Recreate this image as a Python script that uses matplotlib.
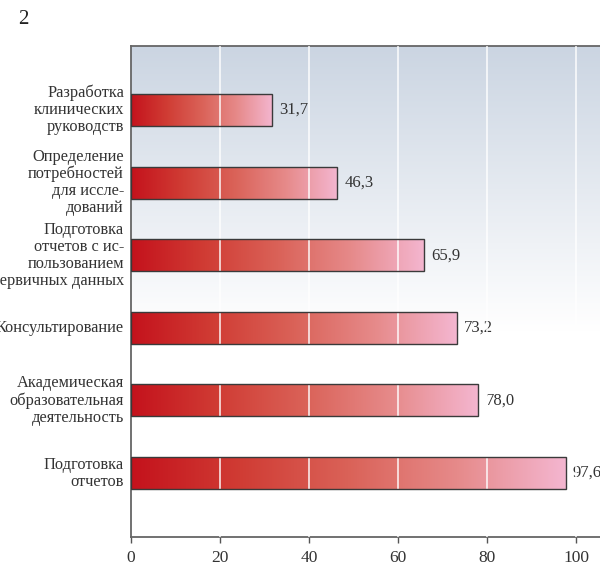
import numpy as np
import matplotlib
matplotlib.use("Agg")
import matplotlib.pyplot as plt
from matplotlib.colors import LinearSegmentedColormap

# данные (сверху вниз)
labels = [
    "Разработка\nклинических\nруководств",
    "Определение\nпотребностей\nдля иссле-\nдований",
    "Подготовка\nотчетов с ис-\nпользованием\nпервичных данных",
    "Консультирование",
    "Академическая\nобразовательная\nдеятельность",
    "Подготовка\nотчетов",
]
values = [31.7, 46.3, 65.9, 73.2, 78.0, 97.6]
value_text = ["31,7", "46,3", "65,9", "73,2", "78,0", "97,6"]
xticks = [0, 20, 40, 60, 80, 100]

plt.rcParams['font.family'] = ['Liberation Serif', 'DejaVu Serif']

fig = plt.figure(figsize=(6.0, 5.68), dpi=100)
ax = fig.add_axes([131 / 600, 31 / 568, 472 / 600, 491 / 568])

xmax = 106
ylo, yhi = -0.88, 5.88
ax.set_xlim(0, xmax)
ax.set_ylim(ylo, yhi)

# фон: голубовато-серый сверху, белый снизу
bg = LinearSegmentedColormap.from_list("bg", [(0, "#ffffff"), (0.42, "#ffffff"), (1, "#cbd5e2")])
grad = np.linspace(0, 1, 256).reshape(-1, 1)
ax.imshow(grad, cmap=bg, aspect="auto", extent=[0, xmax, ylo, yhi],
          origin="lower", zorder=0)

bar_cmap = LinearSegmentedColormap.from_list(
    "bar", ["#c4121c", "#d03c34", "#da6258", "#e68a8a", "#f4b6d0"])
hgrad = np.linspace(0, 1, 256).reshape(1, -1)

n = len(values)
h = 0.44
for i, (v, t) in enumerate(zip(values, value_text)):
    y = n - 1 - i
    ax.imshow(hgrad, cmap=bar_cmap, aspect="auto",
              extent=[0, v, y - h / 2, y + h / 2], zorder=2)
    ax.barh(y, v, height=h, left=0, facecolor="none",
            edgecolor="#3a3a3a", linewidth=1.0, zorder=4)
    ax.text(v + 1.6, y, t, ha="left", va="center", fontsize=12, color="#333333")
    ax.text(-1.6, y, labels[i], ha="right", va="center", multialignment="right",
            fontsize=11.8, color="#333333", linespacing=1.08, clip_on=False)

for xt in xticks[1:]:
    ax.axvline(xt, color="white", linewidth=1.3, alpha=0.8, zorder=3)

ax.set_xticks(xticks)
ax.set_xticklabels([str(x) for x in xticks], fontsize=12.5, color="#333333")
ax.set_yticks([])
ax.tick_params(axis="x", direction="out", length=4, width=1, color="#555555", pad=5)

for side in ["left", "top", "bottom"]:
    ax.spines[side].set_color("#666666")
    ax.spines[side].set_linewidth(1.3)
ax.spines["right"].set_visible(False)

fig.text(18 / 600, 1 - 20 / 568, "2", fontsize=15, color="#222222",
         ha="left", va="center")

fig.savefig("out.png", dpi=100)
